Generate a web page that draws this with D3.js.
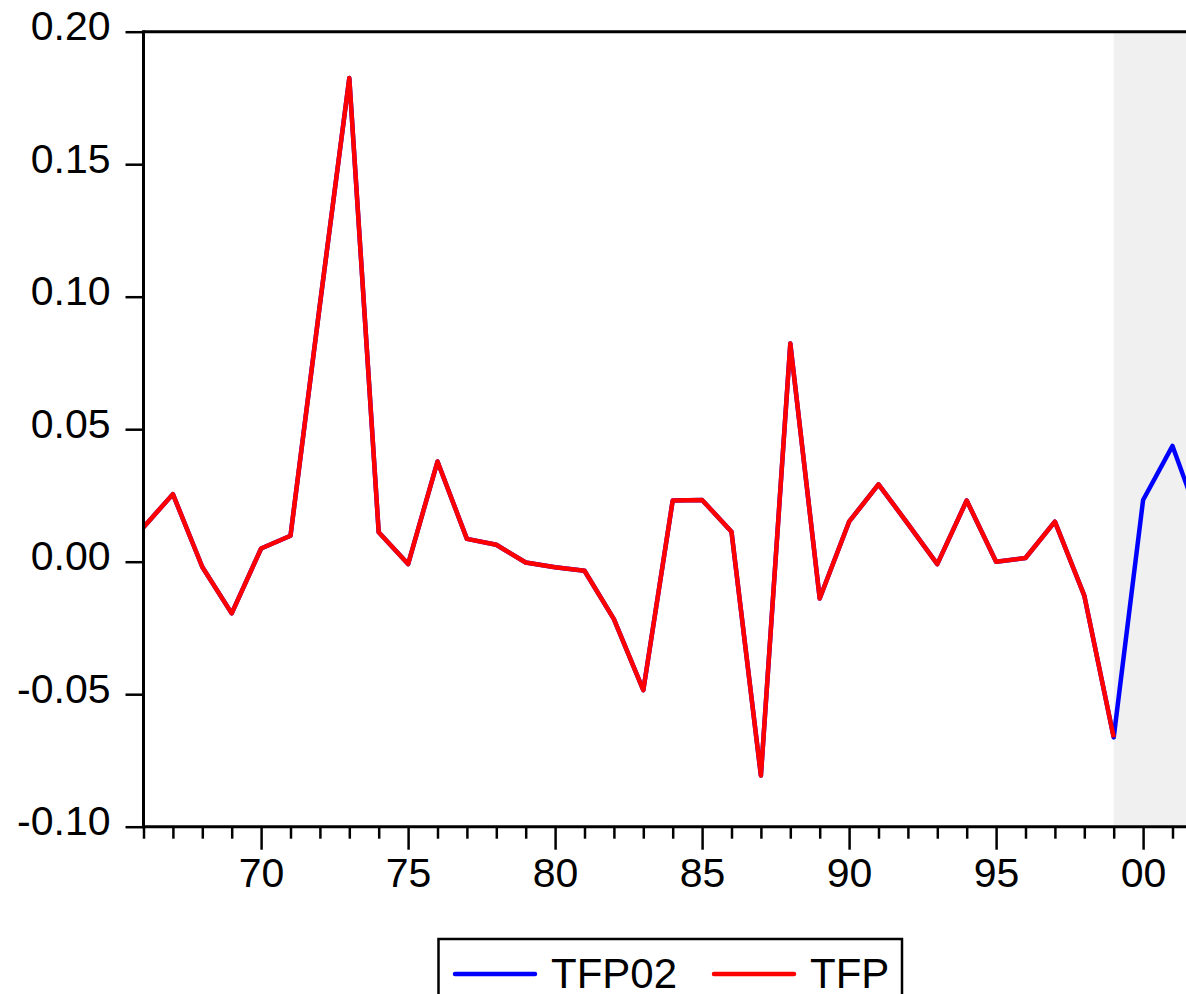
<!DOCTYPE html>
<html>
<head>
<meta charset="utf-8">
<script src="https://cdn.jsdelivr.net/npm/d3@7"></script>
<style>
  html, body { margin: 0; padding: 0; background: #fff; overflow: hidden; }
  svg { display: block; font-family: "Liberation Sans", Arial, sans-serif; }
</style>
</head>
<body>
<div id="chart"></div>
<script>
// Years on the x axis (the picture is cut off at the right, around 2001/02)
const years = d3.range(1966, 2003);

// TFP, 1966-1999 (red)
const tfp = [
  0.0130, 0.0255, -0.0020, -0.0195, 0.0050, 0.0098, 0.0970, 0.1825,
  0.0111, -0.0009, 0.0378, 0.0086, 0.0064, -0.0003, -0.0021, -0.0034,
  -0.0217, -0.0485, 0.0231, 0.0233, 0.0113, -0.0807, 0.0823, -0.0139,
  0.0151, 0.0292, 0.0143, -0.0009, 0.0231, 0.0000, 0.0014, 0.0151,
  -0.0128, -0.0663
];

// TFP02 forecast, 2000-2002 (blue); history equals TFP
const tfp02Forecast = [0.0233, 0.0437, 0.0130];
const tfp02 = tfp.concat(tfp02Forecast);

const forecastStart = 1999;
const yTicks = [-0.10, -0.05, 0.00, 0.05, 0.10, 0.15, 0.20];
const majorYears = [1970, 1975, 1980, 1985, 1990, 1995, 2000];

const width = 1186;
const height = 994;
const plotLeft = 143.5, plotTop = 31.7, plotBottom = 826.7;
const plotRight = plotLeft + 36 * 29.4;

const svg = d3.select('#chart')
  .append('svg')
  .attr('width', width)
  .attr('height', height);

const x = d3.scaleLinear().domain([1966, 2002]).range([plotLeft, plotRight]);
const y = d3.scaleLinear().domain([-0.10, 0.20]).range([plotBottom, plotTop]);

// Forecast shading
svg.append('rect')
  .attr('x', x(forecastStart))
  .attr('y', plotTop + 1.5)
  .attr('width', plotRight - x(forecastStart))
  .attr('height', plotBottom - plotTop - 3)
  .attr('fill', '#f0f0f0');

// Lines
const line = d3.line()
  .x((d, i) => x(years[i]))
  .y(d => y(d));

svg.append('path')
  .datum(tfp02)
  .attr('d', line)
  .attr('fill', 'none')
  .attr('stroke', '#0000ff')
  .attr('stroke-width', 4.5)
  .attr('stroke-linejoin', 'round');

svg.append('path')
  .datum(tfp)
  .attr('d', line)
  .attr('fill', 'none')
  .attr('stroke', '#ff0000')
  .attr('stroke-width', 4.5)
  .attr('stroke-linejoin', 'round');

// Y axis
const yAxis = svg.append('g')
  .attr('transform', `translate(${plotLeft},0)`)
  .call(d3.axisLeft(y)
    .tickValues(yTicks)
    .tickSize(18)
    .tickPadding(15)
    .tickFormat(d => d.toFixed(2)));
yAxis.select('.domain').remove();
yAxis.selectAll('line').attr('stroke', '#000').attr('stroke-width', 2.5);
yAxis.selectAll('text')
  .attr('dy', '0.2em')
  .attr('fill', '#000')
  .style('font-size', '41px');

// X axis: minor ticks every year, major every five
const xMinor = svg.append('g')
  .attr('transform', `translate(0,${plotBottom})`)
  .call(d3.axisBottom(x)
    .tickValues(years.filter(yr => !majorYears.includes(yr)))
    .tickSize(12)
    .tickFormat(''));
xMinor.select('.domain').remove();
xMinor.selectAll('line').attr('stroke', '#000').attr('stroke-width', 2.5);

const xMajor = svg.append('g')
  .attr('transform', `translate(0,${plotBottom})`)
  .call(d3.axisBottom(x)
    .tickValues(majorYears)
    .tickSize(23)
    .tickPadding(8)
    .tickFormat(d => String(d % 100).padStart(2, '0')));
xMajor.select('.domain').remove();
xMajor.selectAll('line').attr('stroke', '#000').attr('stroke-width', 2.5);
xMajor.selectAll('text')
  .attr('fill', '#000')
  .style('font-size', '41px');

// Frame (left, top, bottom)
const frame = svg.append('g')
  .attr('stroke', '#000')
  .attr('stroke-width', 3)
  .attr('fill', 'none');
frame.append('line').attr('x1', plotLeft).attr('x2', plotLeft).attr('y1', plotTop - 1.5).attr('y2', plotBottom + 1.5);
frame.append('line').attr('x1', plotLeft).attr('x2', plotRight).attr('y1', plotTop).attr('y2', plotTop);
frame.append('line').attr('x1', plotLeft).attr('x2', plotRight).attr('y1', plotBottom).attr('y2', plotBottom);

// Legend
const legendItems = [
  { name: 'TFP02', color: '#0000ff', x: 455 },
  { name: 'TFP', color: '#ff0000', x: 714 }
];

const legend = svg.append('g');
legend.append('rect')
  .attr('x', 438.5)
  .attr('y', 939)
  .attr('width', 463.5)
  .attr('height', 80)
  .attr('fill', '#fff')
  .attr('stroke', '#000')
  .attr('stroke-width', 2.5);

legendItems.forEach(item => {
  legend.append('line')
    .attr('x1', item.x).attr('x2', item.x + 80)
    .attr('y1', 974).attr('y2', 974)
    .attr('stroke', item.color)
    .attr('stroke-width', 4.5)
    .attr('stroke-linecap', 'round');
  legend.append('text')
    .attr('x', item.x + 96)
    .attr('y', 988)
    .attr('fill', '#000')
    .style('font-size', '42px')
    .text(item.name);
});
</script>
</body>
</html>
